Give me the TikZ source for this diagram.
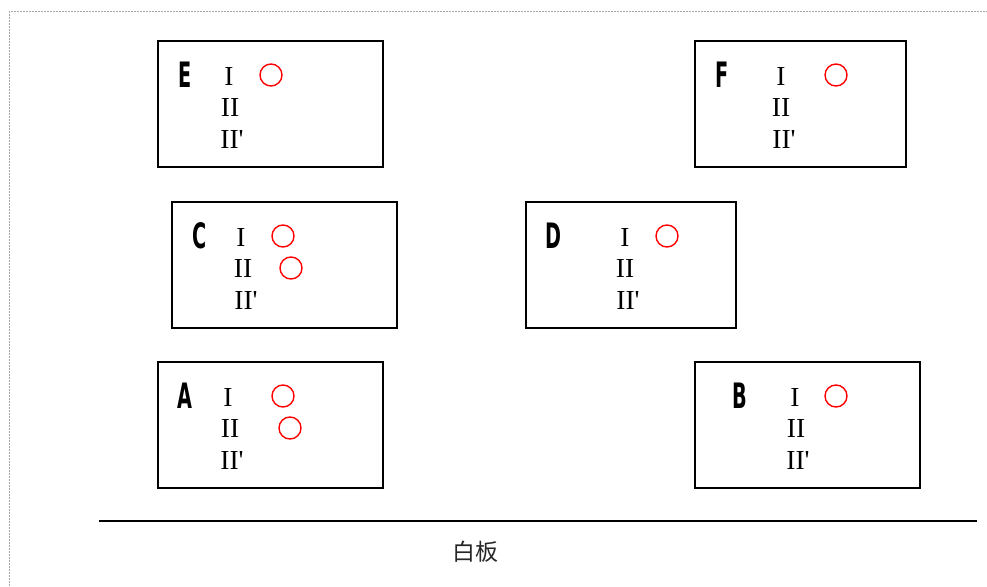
\documentclass[tikz,border=0pt]{standalone}
\usepackage{fontspec}
\setmainfont{Liberation Serif}
\newfontfamily\numfont{Liberation Serif}
\newfontfamily\cjk{Noto Sans CJK SC}
\newfontfamily\lblfont{DejaVu Sans}
\begin{document}
\begin{tikzpicture}[x=1pt,y=-1pt,
  box/.style={draw=black, line width=2.2pt, minimum width=225pt, minimum height=126pt, inner sep=0pt},
  lbl/.style={font=\lblfont\bfseries\fontsize{35}{35}\selectfont, inner sep=0pt, xscale=0.55},
  num/.style={font=\numfont\fontsize{27.5}{27.5}\selectfont, inner sep=0pt},
  okmark/.style={circle, draw=red, line width=1.4pt, minimum size=22pt, inner sep=0pt}]
\useasboundingbox (0,0) rectangle (987,586);
\draw[gray!70, dash pattern=on 2pt off 1pt, line width=0.6pt] (9,586) -- (9,11.5) -- (987,11.5);
% boxes
\node[box] (E) at (270.5,104) {};
\node[box, minimum width=211pt] (F) at (800.5,104) {};
\node[box] (C) at (284.5,265) {};
\node[box, minimum width=210pt] (D) at (631,265) {};
\node[box] (A) at (270.5,425) {};
\node[box] (B) at (807.5,425) {};
% E
\node[lbl] (El) at (185,75) {E};
\node[num] (E1) at (229,76) {I};
\node[num] (E2) at (230,107) {II};
\node[num] (E3) at (232,139) {II'};
\node[okmark] (Ec1) at (271,75) {};
% F
\node[lbl] (Fl) at (722,75) {F};
\node[num] (F1) at (781,76) {I};
\node[num] (F2) at (781,107) {II};
\node[num] (F3) at (784,139) {II'};
\node[okmark] (Fc1) at (836,75) {};
% C
\node[lbl] (Cl) at (200,236) {C};
\node[num] (C1) at (241,237) {I};
\node[num] (C2) at (243,268) {II};
\node[num] (C3) at (246,300) {II'};
\node[okmark] (Cc1) at (283,236) {};
\node[okmark] (Cc2) at (291,268) {};
% D
\node[lbl] (Dl) at (553,236) {D};
\node[num] (D1) at (625,237) {I};
\node[num] (D2) at (625,268) {II};
\node[num] (D3) at (628,300) {II'};
\node[okmark] (Dc1) at (667,236) {};
% A
\node[lbl] (Al) at (185,396) {A};
\node[num] (A1) at (228,397) {I};
\node[num] (A2) at (230,428) {II};
\node[num] (A3) at (232,460) {II'};
\node[okmark] (Ac1) at (283,396) {};
\node[okmark] (Ac2) at (290,428) {};
% B
\node[lbl] (Bl) at (740,396) {B};
\node[num] (B1) at (795,397) {I};
\node[num] (B2) at (796,428) {II};
\node[num] (B3) at (798,460) {II'};
\node[okmark] (Bc1) at (836,396) {};
% whiteboard
\coordinate (wl) at (99,521);
\coordinate (wr) at (977,521);
\draw[line width=2pt] (wl) -- (wr);
\node[font=\cjk\fontsize{23}{23}\selectfont, text=black!85, inner sep=0pt] (wb) at (475,552) {白板};
\end{tikzpicture}
\end{document}
